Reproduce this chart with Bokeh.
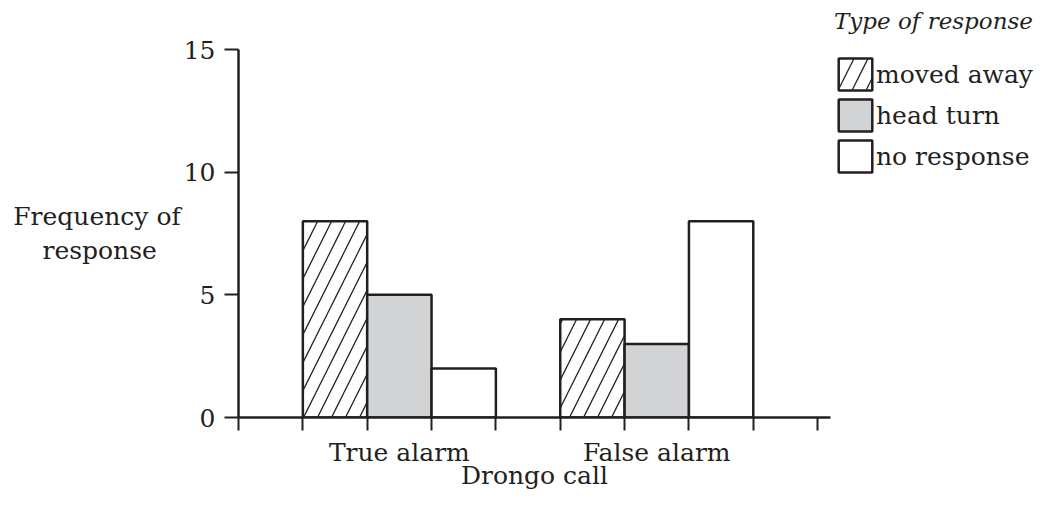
from bokeh.plotting import figure
from bokeh.models import Range1d, FixedTicker, Legend, LegendItem
from bokeh.embed import file_html
from bokeh.resources import INLINE

categories = ["True alarm", "False alarm"]
series_names = ["moved away", "head turn", "no response"]
moved_away = [8, 4]
head_turn = [5, 3]
no_response = [2, 8]
y_ticks = [0, 5, 10, 15]

FONT = "DejaVu Serif"
INK = "#231f20"
FS = "25px"

p = figure(width=1040, height=498, frame_width=592, frame_height=368,
           x_range=Range1d(0, 9.2), y_range=Range1d(0, 15),
           output_backend="svg", toolbar_location=None,
           min_border_left=238, min_border_right=210,
           min_border_top=49, min_border_bottom=81)
p.outline_line_color = None
p.xgrid.visible = False
p.ygrid.visible = False
p.background_fill_color = "white"
p.border_fill_color = "white"

group_centers = [2.5 + 4 * i for i in range(len(categories))]
offsets = [-1, 0, 1]
styles = [
    dict(fill_color="white", hatch_pattern="/", hatch_color=INK, hatch_scale=28, hatch_weight=1.3),
    dict(fill_color="#d1d3d4"),
    dict(fill_color="white"),
]
renderers = []
for vals, off, st in zip([moved_away, head_turn, no_response], offsets, styles):
    xs = [c + off for c in group_centers]
    r = p.vbar(x=xs, top=vals, bottom=0, width=1, line_color=INK, line_width=2.5, **st)
    renderers.append(r)

# x axis
xa = p.xaxis[0]
xa.ticker = FixedTicker(ticks=group_centers, minor_ticks=list(range(10)))
xa.major_label_overrides = {c: n for c, n in zip(group_centers, categories)}
xa.major_tick_out = 0
xa.major_tick_in = 0
xa.minor_tick_out = 13
xa.minor_tick_in = 0
xa.minor_tick_line_color = INK
xa.minor_tick_line_width = 2
xa.axis_line_color = INK
xa.axis_line_width = 2.5
xa.major_label_standoff = 7
xa.major_label_text_font = FONT
xa.major_label_text_font_size = FS
xa.major_label_text_color = INK
xa.axis_label = "Drongo call"
xa.axis_label_text_font = FONT
xa.axis_label_text_font_size = FS
xa.axis_label_text_font_style = "normal"
xa.axis_label_text_color = INK
xa.axis_label_standoff = -9

# y axis
ya = p.yaxis[0]
ya.ticker = FixedTicker(ticks=y_ticks, minor_ticks=[])
ya.major_tick_out = 14
ya.major_tick_in = 0
ya.major_tick_line_color = INK
ya.major_tick_line_width = 2
ya.minor_tick_out = 0
ya.minor_tick_in = 0
ya.axis_line_color = INK
ya.axis_line_width = 2.5
ya.major_label_standoff = 9
ya.major_label_text_font = FONT
ya.major_label_text_font_size = FS
ya.major_label_text_color = INK
ya.axis_label = "Frequency of\nresponse\u00a0\u00a0\u00a0"
ya.axis_label_orientation = "horizontal"
ya.axis_label_text_align = "center"
ya.axis_label_text_font = FONT
ya.axis_label_text_font_size = FS
ya.axis_label_text_font_style = "normal"
ya.axis_label_text_color = INK
ya.axis_label_standoff = 0

legend = Legend(items=[LegendItem(label=n, renderers=[r]) for n, r in zip(series_names, renderers)],
                location=(4, 241), title="Type of response",
                title_text_font=FONT, title_text_font_style="italic",
                title_text_font_size="23px", title_text_color=INK, title_standoff=20,
                label_text_font=FONT, label_text_font_size="25px", label_text_color=INK,
                glyph_width=42, glyph_height=40, spacing=1, label_standoff=0,
                padding=0, margin=0, border_line_color=None, background_fill_alpha=0)
p.add_layout(legend, "right")

open("out.html", "w").write(file_html(p, INLINE))
